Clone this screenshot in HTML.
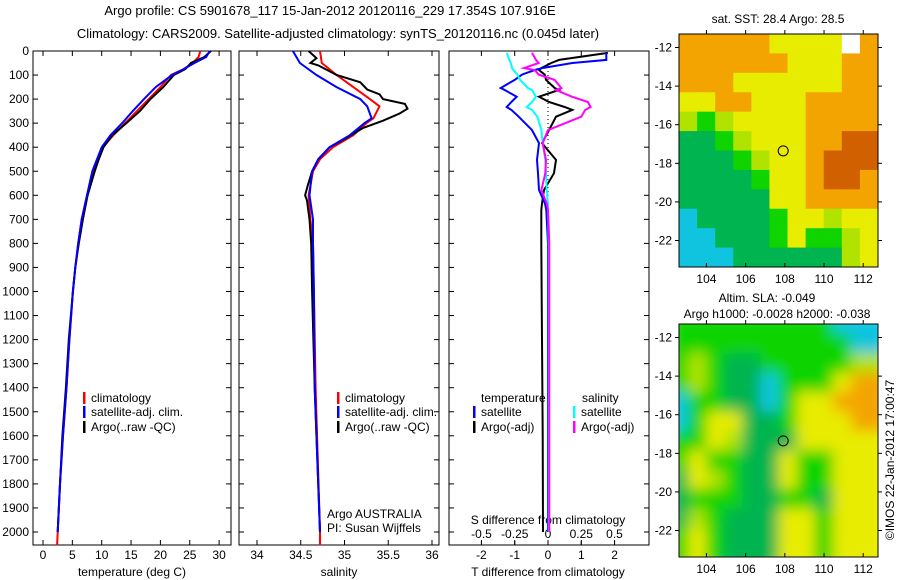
<!DOCTYPE html>
<html><head><meta charset="utf-8"><style>
body{margin:0;background:#fff;}
svg{display:block;font-family:"Liberation Sans",sans-serif;}
text{fill:#000;font-size:12px;}
</style></head><body>
<svg id="chart" width="900" height="580" viewBox="0 0 900 580">
<text x="330" y="15" text-anchor="middle" style="font-size:13px">Argo profile: CS 5901678_117 15-Jan-2012 20120116_229 17.354S 107.916E</text>
<text x="338" y="38" text-anchor="middle" style="font-size:13px">Climatology: CARS2009. Satellite-adjusted climatology: synTS_20120116.nc (0.045d later)</text>
<g id="g"></g>
</svg>
<script>
// ---- data ----
const depths=[0,25,50,75,100,150,200,250,300,350,400,450,500,600,700,800,900,1000,1200,1400,1600,1800,2000];
const tClim=[26.8,26.5,25.5,24,21.8,20,18,16,14,12,10.2,9.3,8.5,7.5,6.6,6,5.5,5.1,4.5,4,3.4,2.9,2.5];
const tSat=[28.4,27.8,25.8,24,22,19.2,17.2,15.3,13.5,11.5,10,9.2,8.4,7.5,6.6,6,5.5,5.1,4.5,4,3.4,2.9,2.5];
const tArgo=[28.6,27.5,25.2,24.3,22.3,20.5,18.3,16.5,14.2,11.8,10.3,9.5,8.8,7.6,6.8,6.1,5.5,5.1,4.4,3.9,3.3,2.9,2.5];
const sDepths=[0,50,100,150,200,230,280,300,350,400,450,500,600,700,800,1000,1400,2000];
const sClim=[34.72,34.74,34.91,35.1,35.29,35.4,35.33,35.25,35.1,34.87,34.72,34.64,34.59,34.61,34.64,34.65,34.67,34.72];
const sSat=[34.41,34.49,34.68,34.91,35.18,35.26,35.31,35.23,35.06,34.83,34.7,34.63,34.6,34.64,34.64,34.65,34.66,34.72];
const aDepths=[0,30,50,60,100,130,160,180,200,220,240,260,290,320,360,400,450,500,560,600,620,700,800,1000,1400,2000];
const sArgo=[34.59,34.68,34.61,34.7,34.91,35.18,35.26,35.4,35.44,35.69,35.72,35.63,35.44,35.21,35.03,34.83,34.7,34.63,34.58,34.55,34.57,34.6,34.62,34.63,34.66,34.72];
const dDepths=[8,37,50,71,79,98,120,154,162,190,212,233,245,273,329,383,453,508,578,634,661,800,1200,1600,2000];
const dTArgo=[1.8,0.33,0.1,-0.2,-0.27,-0.1,-0.06,0.2,0.33,-0.27,0.03,0.5,0.73,0.24,0.03,-0.18,0.24,0.18,-0.12,-0.18,-0.2,-0.2,-0.18,-0.16,-0.15];
const dTSat=[1.75,1.75,0.73,-0.18,-0.4,-0.78,-1.0,-1.42,-1.3,-0.94,-1.1,-1.24,-1.1,-0.88,-0.48,-0.27,-0.33,-0.3,-0.27,-0.09,-0.05,0,0,0,0];
const dSSat=[-0.31,-0.29,-0.28,-0.27,-0.26,-0.23,-0.21,-0.15,-0.12,-0.09,-0.12,-0.16,-0.12,-0.08,-0.05,-0.04,-0.02,-0.015,-0.01,0,0,0.005,0.005,0.005,0.005];
const dSArgo=[-0.12,-0.09,-0.07,-0.18,-0.1,-0.07,0.05,0.1,0.06,0.18,0.3,0.32,0.28,0.25,0.0,-0.04,-0.015,-0.02,-0.05,-0.01,0.0,0.01,0.01,0.01,0.01];
const depthTicks=[0,100,200,300,400,500,600,700,800,900,1000,1100,1200,1300,1400,1500,1600,1700,1800,1900,2000];
const tTicks=[0,5,10,15,20,25,30];
const sTicks=[34,34.5,35,35.5,36];
const dtTicks=[-2,-1,0,1,2];
const dsTicks=[-0.5,-0.25,0,0.25,0.5];
const sstGrid=["OOOOOYYYYWO","OOOOOOYYYOO","OOOYYYYYYOO","YYOOYYYOOOO","LGLYYYYOOOO","DDGLYYYOORR","DDDGLYYORRR","DDDDGYYORRO","DDDDDYYOOOO","CDDDDGYYLYY","CCDDDGYGGLY","CCCDDDDDDLY"];
const slaGrid=["GGGGGGGGGCC","GGGGGGGGGGC","GLGDDGGGGGL","GLGDDCGGGYO","CGGDDCGYYOO","CGYYDDGYYYO","GGYLDDDYYYY","GYGGDDYGGYY","DYLGDDYGGYY","DGGGDDGGDYY","DLGDDDYYGYY","GYGDDDYYGYY"];
const lonTicks=[104,106,108,110,112];
const latTicks=[-12,-14,-16,-18,-20,-22];
const argoPos=[107.916,-17.354];

// ---- helpers ----
const NS="http://www.w3.org/2000/svg";
const G=document.getElementById('g');
function el(t,a,p){const e=document.createElementNS(NS,t);for(const k in a)e.setAttribute(k,a[k]);(p||G).appendChild(e);return e;}
const yD=d=>51+d*0.2405;
const xT=v=>43+v*5.87;
const xS=v=>257+(v-34)*87.5;
const xDT=v=>548+v*33.3;
const xDS=v=>548+v*133;
function line(xs,ds,fx,color,w,name){
  const pts=xs.map((v,i)=>fx(v).toFixed(1)+','+yD(ds[i]).toFixed(1)).join(' ');
  const p=el('polyline',{points:pts,fill:'none',stroke:color,'stroke-width':w});
  
  
}
function txt(x,y,s,anchor,name,extra){
  const t=el('text',Object.assign({x:x,y:y,'text-anchor':anchor||'start'},extra||{}));t.textContent=s;
  
  
  return t;
}
function frame(x0,x1,name){
  const r=el('rect',{x:x0,y:51,width:x1-x0,height:494,fill:'none',stroke:'#000','stroke-width':1});
  
  
  depthTicks.forEach(d=>{el('line',{x1:x0,x2:x0+5,y1:yD(d),y2:yD(d),stroke:'#000'});el('line',{x1:x1,x2:x1-5,y1:yD(d),y2:yD(d),stroke:'#000'});});
}
frame(33,231,'temperature-panel');frame(239,439,'salinity-panel');frame(449,649,'difference-panel');
depthTicks.forEach(d=>txt(29,yD(d)+4,String(d),'end','depth-tick-label'));
tTicks.forEach(v=>{el('line',{x1:xT(v),x2:xT(v),y1:545,y2:540,stroke:'#000'});el('line',{x1:xT(v),x2:xT(v),y1:51,y2:56,stroke:'#000'});txt(xT(v),559,String(v),'middle','temperature-tick-label');});
sTicks.forEach(v=>{el('line',{x1:xS(v),x2:xS(v),y1:545,y2:540,stroke:'#000'});el('line',{x1:xS(v),x2:xS(v),y1:51,y2:56,stroke:'#000'});txt(xS(v),559,String(v),'middle','salinity-tick-label');});
dtTicks.forEach(v=>{el('line',{x1:xDT(v),x2:xDT(v),y1:545,y2:540,stroke:'#000'});el('line',{x1:xDT(v),x2:xDT(v),y1:51,y2:56,stroke:'#000'});txt(xDT(v),559,String(v),'middle','t-diff-tick-label');});
dsTicks.forEach(v=>{el('line',{x1:xDS(v),x2:xDS(v),y1:545,y2:541,stroke:'#000'});txt(xDS(v),538,String(v),'middle','s-diff-tick-label');});
txt(132,576,'temperature (deg C)','middle','x-axis-title-temperature');
txt(339,576,'salinity','middle','x-axis-title-salinity');
txt(548,576,'T difference from climatology','middle','x-axis-title-t-diff');
txt(548,524,'S difference from climatology','middle','x-axis-title-s-diff');
el('line',{x1:548,x2:548,y1:51,y2:400,stroke:'#000','stroke-dasharray':'1,3'});
line(tClim.concat([2.4]),depths.concat([2055]),xT,'#f00',2,'temp-climatology-line');
line(tArgo,depths,xT,'#000',2,'temp-argo-line');
line(tSat,depths,xT,'#00f',2,'temp-satellite-line');
line(sClim.concat([34.72]),sDepths.concat([2055]),xS,'#f00',2,'sal-climatology-line');
line(sArgo,aDepths,xS,'#000',2,'sal-argo-line');
line(sSat,sDepths,xS,'#00f',2,'sal-satellite-line');
line(dTArgo,dDepths,xDT,'#000',2,'t-diff-argo-line');
line(dTSat,dDepths,xDT,'#00f',2,'t-diff-satellite-line');
line(dSSat,dDepths,xDS,'#0ff',2,'s-diff-satellite-line');
line(dSArgo,dDepths,xDS,'#f0f',2,'s-diff-argo-line');
function leg(x,y,c,s,name){el('rect',{x:x,y:y-10,width:2.5,height:12,fill:c});txt(x+8,y,s,'start',name);}
leg(83,402,'#f00','climatology','legend-climatology');leg(83,416,'#00f','satellite-adj. clim.','legend-satellite');leg(83,431,'#000','Argo(..raw -QC)','legend-argo');
leg(337,402,'#f00','climatology','legend-climatology-2');leg(337,416,'#00f','satellite-adj. clim.','legend-satellite-2');leg(337,431,'#000','Argo(..raw -QC)','legend-argo-2');
txt(481,402,'temperature','start','legend-temperature-header');txt(582,402,'salinity','start','legend-salinity-header');
leg(473,416,'#00f','satellite','legend-t-satellite');leg(473,431,'#000','Argo(-adj)','legend-t-argo');
leg(573,416,'#0ff','satellite','legend-s-satellite');leg(573,431,'#f0f','Argo(-adj)','legend-s-argo');
txt(327,518,'Argo AUSTRALIA','start','credit-line-1');txt(327,532,'PI: Susan Wijffels','start','credit-line-2');
const COL={O:'#f4a400',Y:'#e8ec00',L:'#b0e400',G:'#10d400',D:'#00b450',C:'#10c4e0',R:'#d06000',W:'#ffffff'};
const mx=lon=>679+(lon-102.6)*19.6;
const my=(top,lat)=>top+(lat+11.3)*-19.3;
function map(top,grid,blur,name){
  const h=233,w=199;
  const g=el('g',{});
  const cid='clip'+top;
  const cp=el('clipPath',{id:cid},g);el('rect',{x:679,y:top,width:w,height:h},cp);
  const inner=el('g',{'clip-path':'url(#'+cid+')'},g);
  const gi=blur?el('g',{filter:'url(#bl)'},inner):inner;
  const rows=grid.length,cols=grid[0].length,cw=w/cols,ch=h/rows;
  for(let r=0;r<rows;r++)for(let c=0;c<cols;c++){
    el('rect',{x:679+c*cw-(blur?cw/2:0),y:top+r*ch-(blur?ch/2:0),width:cw+1+(blur?cw:0),height:ch+1+(blur?ch:0),fill:COL[grid[r][c]]},gi);
  }
  el('rect',{x:679,y:top,width:w,height:h,fill:'none',stroke:'#000'},g);
  lonTicks.forEach(v=>{el('line',{x1:mx(v),x2:mx(v),y1:top+h,y2:top+h-4,stroke:'#000'},g);el('line',{x1:mx(v),x2:mx(v),y1:top,y2:top-4,stroke:'#000'},g);txt(mx(v),top+h+16,String(v),'middle','map-lon-label');});
  latTicks.forEach(v=>{el('line',{x1:679,x2:675,y1:my(top,v),y2:my(top,v),stroke:'#000'},g);el('line',{x1:878,x2:882,y1:my(top,v),y2:my(top,v),stroke:'#000'},g);txt(672,my(top,v)+4,String(v),'end','map-lat-label');});
  el('circle',{cx:mx(argoPos[0]),cy:my(top,argoPos[1]),r:5,fill:'none',stroke:'#000'},g);
}
const defs=el('defs',{});const f=el('filter',{id:'bl'},defs);el('feGaussianBlur',{stdDeviation:7},f);
map(34,sstGrid,false,'sst-map');
map(324,slaGrid,true,'sla-map');
txt(778,23,'sat. SST: 28.4 Argo: 28.5','middle','sst-map-title');
txt(767,302,'Altim. SLA: -0.049','middle','sla-map-title');
txt(777,318,'Argo h1000: -0.0028 h2000: -0.038','middle','sla-map-subtitle');
txt(0,0,'©IMOS 22-Jan-2012 17:00:47','middle','imos-timestamp',{transform:'translate(894,460) rotate(-90)'});
</script>
</body></html>
